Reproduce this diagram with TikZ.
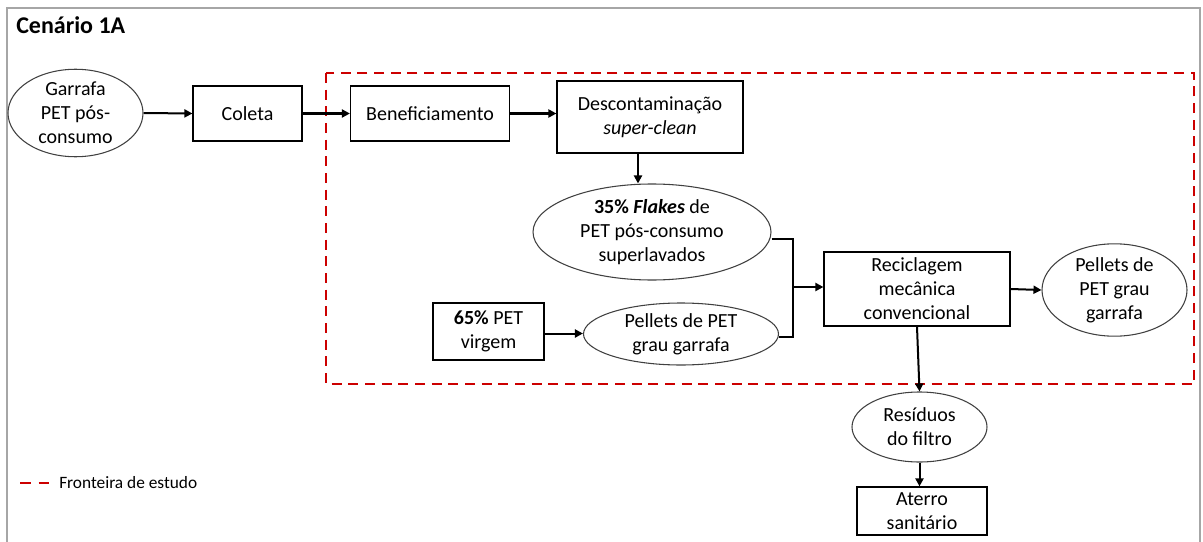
\documentclass[tikz,border=0pt]{standalone}
\usepackage{fontspec}
\setmainfont{Carlito}
\usetikzlibrary{shapes.geometric,arrows.meta}
\begin{document}
\begin{tikzpicture}[x=0.75pt,y=-0.75pt,
  every node/.style={font=\fontsize{15}{18}\selectfont, align=center, inner sep=0pt},
  stepbox/.style={draw=black, line width=0.9pt, rectangle},
  oval/.style={draw=black!75, line width=0.8pt, ellipse},
  arr/.style={line width=1.5pt, -{Triangle[length=6pt,width=6pt]}},
  conn/.style={line width=1.5pt},
  boundary/.style={draw=red!80!black, line width=1.8pt, dash pattern=on 7.5pt off 5pt}]
\useasboundingbox (0,0) rectangle (1203,542);
% frame
\draw[black!35, line width=1.2pt] (7,545) -- (7,8) -- (1200,8) -- (1200,545);
\node[anchor=west, font=\fontsize{18}{20}\selectfont\bfseries] (title) at (16,25) {Cenário 1A};
% boundary
\draw[boundary] (326,73) rectangle (1194,384);
% nodes
\node[oval, minimum width=101.25pt, minimum height=60pt] (garrafa) at (75.5,113) {Garrafa\\PET pós-\\consumo};
\node[stepbox, minimum width=81.75pt, minimum height=41.25pt] (coleta) at (247.5,113.5) {Coleta};
\node[stepbox, minimum width=119.25pt, minimum height=41.25pt] (benef) at (430,113.5) {Beneficiamento};
\node[stepbox, minimum width=139.5pt, minimum height=54pt] (descont) at (650,117) {Descontaminação\\\textit{super-clean}};
\node[oval, minimum width=178.5pt, minimum height=72pt] (flakes) at (652,232) {\textbf{35\% \textit{Flakes}} de\\PET pós-consumo\\superlavados};
\node[stepbox, minimum width=83.25pt, minimum height=42.75pt] (virgem) at (488.5,331.5) {\textbf{65\%} PET\\virgem};
\node[oval, minimum width=146.25pt, minimum height=46.5pt] (pellets1) at (681,334) {Pellets de PET\\grau garrafa};
\node[stepbox, minimum width=139.5pt, minimum height=55.5pt] (recic) at (917,289) {Reciclagem\\mecânica\\convencional};
\node[oval, minimum width=108.75pt, minimum height=60pt] (pellets2) at (1114.5,290) {Pellets de\\PET grau\\garrafa};
\node[oval, minimum width=101.25pt, minimum height=52.5pt] (residuos) at (919.5,427) {Resíduos\\do filtro};
\node[stepbox, minimum width=97.5pt, minimum height=36pt] (aterro) at (922,511) {Aterro\\sanitário};
% connectors
\draw[arr] (garrafa.east) -- (coleta.west);
\draw[arr] (coleta.east) -- (benef.west);
\draw[arr] (benef.east) -- (benef.east -| descont.west);
\draw[arr] ([xshift=-9pt]descont.south) -- ([xshift=-9pt]descont.south |- flakes.north);
\draw[arr] ([yshift=-1.5pt]virgem.east) -- ([yshift=-1.5pt]virgem.east -| pellets1.west);
\coordinate (j) at (793,287);
\draw[conn] ([yshift=-5pt]flakes.east) -| (j) |- ([yshift=-2pt]pellets1.east);
\draw[arr] (j) -- (j -| recic.west);
\draw[arr] (recic.east) -- (pellets2.west);
\draw[arr] (recic.south) -- (residuos.north);
\draw[arr] (residuos.south) -- (residuos.south |- aterro.north);
% legend
\coordinate (l1) at (20,483);
\coordinate (l2) at (50,483);
\draw[boundary, line width=1.6pt, dash pattern=on 8pt off 6pt] (l1) -- (l2);
\node[anchor=west, font=\fontsize{13}{15}\selectfont] (legend) at (59,483) {Fronteira de estudo};
\end{tikzpicture}
\end{document}
